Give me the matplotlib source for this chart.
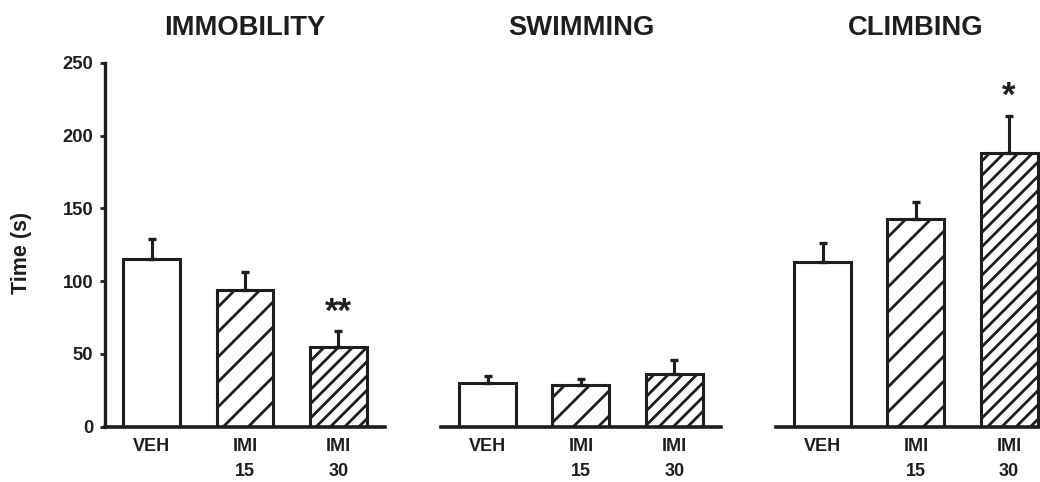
import warnings
import numpy as np
import matplotlib
matplotlib.use("Agg")
import matplotlib.pyplot as plt
import matplotlib.hatch as mhatch

warnings.filterwarnings("ignore")

# group labels and measured times (mean, upper SEM) per test
groups = ["VEH", "IMI\n15", "IMI\n30"]
titles = ["IMMOBILITY", "SWIMMING", "CLIMBING"]

immobility = [115, 94, 55]
immobility_err = [14, 12.5, 10.5]
swimming = [30, 28.5, 36]
swimming_err = [4.5, 4, 10]
climbing = [113, 143, 188]
climbing_err = [13.5, 11, 25.5]

# significance marks: (panel, group index, text)
stars = [(0, 2, "**"), (2, 2, "*")]

ink = "#1e1e1e"


# diagonal hatch with a free number of lines per tile ('d' per line)
class DiagHatch(mhatch.NorthEastHatch):
    def __init__(self, hatch, density):
        self.num_lines = hatch.count("d")
        self.num_vertices = (self.num_lines + 1) * 2 if self.num_lines else 0


mhatch._hatch_types.append(DiagHatch)
bar_hatch = [None, "d" * 8, "d" * 14]

plt.rcParams["font.family"] = ["Liberation Sans", "DejaVu Sans"]
plt.rcParams["font.weight"] = "bold"
plt.rcParams["hatch.linewidth"] = 2.0
plt.rcParams["hatch.color"] = ink

fig = plt.figure(figsize=(10.4, 4.82), dpi=100)

panels = [(immobility, immobility_err), (swimming, swimming_err), (climbing, climbing_err)]
lefts = [0.101, 0.424, 0.746]
axes = []
x = np.arange(len(groups))

for i, (vals, errs) in enumerate(panels):
    ax = fig.add_axes([lefts[i], 0.1147, 0.2692, 0.7552])
    axes.append(ax)
    bars = ax.bar(x, vals, width=0.61, color="white", edgecolor=ink, linewidth=2.2, zorder=2)
    for b, h in zip(bars, bar_hatch):
        if h:
            b.set_hatch(h)
    ax.errorbar(x, vals, yerr=[np.zeros(len(vals)), errs], fmt="none", ecolor=ink,
                elinewidth=2.2, capsize=3, capthick=2.4, zorder=3)
    ax.set_xlim(-0.5, 2.5)
    ax.set_ylim(0, 250)
    for s in ["top", "right"]:
        ax.spines[s].set_visible(False)
    ax.spines["bottom"].set_linewidth(2.6)
    ax.spines["bottom"].set_color(ink)
    ax.set_xticks(x, groups, linespacing=1.6)
    ax.tick_params(axis="x", length=0, pad=8, labelsize=13, colors=ink)
    if i == 0:
        ax.spines["left"].set_linewidth(2.4)
        ax.spines["left"].set_color(ink)
        ax.set_yticks(np.arange(0, 251, 50))
        ax.tick_params(axis="y", length=3.5, width=2, pad=5, labelsize=13.2, colors=ink)
    else:
        ax.spines["left"].set_visible(False)
        ax.set_yticks([])
    ax.set_title(titles[i], fontsize=19.7, fontweight="bold", color=ink, pad=20)
    ax.patch.set_visible(False)

for p, g, txt in stars:
    vals, errs = panels[p]
    axes[p].annotate(txt, xy=(g, vals[g] + errs[g]), xytext=(0, 2), textcoords="offset points",
                     ha="center", va="bottom", fontsize=25, color=ink)

fig.text(0.021, 0.476, "Time (s)", rotation=90, ha="center", va="center",
         fontsize=15.5, fontweight="bold", color=ink)

fig.savefig("out.png", dpi=100)
